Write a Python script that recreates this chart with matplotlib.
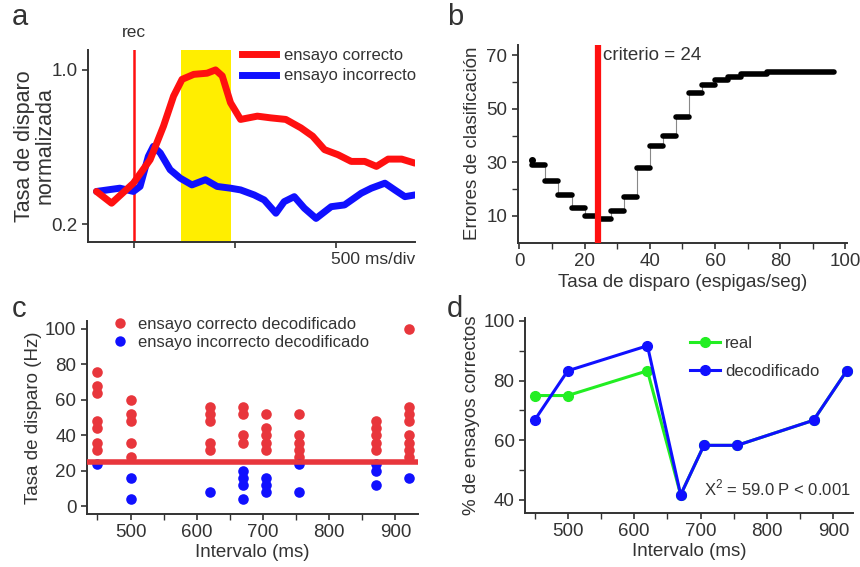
import matplotlib
matplotlib.use("Agg")
import matplotlib.pyplot as plt
from matplotlib.lines import Line2D

plt.rcParams['font.family'] = ['Liberation Sans', 'DejaVu Sans']
plt.rcParams['font.size'] = 13.5
plt.rcParams['text.color'] = '#333333'
plt.rcParams['axes.labelcolor'] = '#333333'
plt.rcParams['xtick.color'] = '#333333'
plt.rcParams['ytick.color'] = '#333333'
plt.rcParams['axes.edgecolor'] = '#333333'

# ---- panel a: normalized firing rate (ms relative to rec)
t_ok = [-186, -111, -3, 80, 146, 196, 238, 296, 362, 404, 437, 478, 528, 611, 678,
        752, 827, 885, 944, 1010, 1076, 1143, 1201, 1259, 1326, 1392]
v_ok = [0.369, 0.308, 0.412, 0.534, 0.708, 0.864, 0.951, 0.977, 0.983, 1.0, 0.969,
        0.830, 0.743, 0.760, 0.751, 0.743, 0.699, 0.656, 0.586, 0.560, 0.525, 0.525,
        0.499, 0.537, 0.537, 0.516]
t_bad = [-186, -70, -3, 30, 71, 96, 130, 179, 229, 287, 354, 412, 478, 528, 595, 645,
         703, 744, 794, 844, 902, 977, 1043, 1126, 1176, 1243, 1292, 1342, 1392]
v_bad = [0.369, 0.386, 0.369, 0.395, 0.551, 0.603, 0.569, 0.482, 0.438, 0.403, 0.430,
         0.395, 0.386, 0.377, 0.351, 0.325, 0.256, 0.316, 0.342, 0.282, 0.229, 0.290,
         0.299, 0.360, 0.386, 0.412, 0.377, 0.342, 0.351]
band = [233, 480]

# ---- panel b: classification errors vs threshold
step_left = [4, 8, 12, 16, 20, 24, 28, 32, 36, 40, 44, 48, 52, 56, 60, 64, 68, 76]
step_right = [8, 12, 16, 20, 24, 28, 32, 36, 40, 44, 48, 52, 56, 60, 64, 68, 76, 96.5]
step_err = [29, 23, 18, 13, 10, 9, 12, 17, 28, 36, 40, 47, 56, 59, 61, 62, 63, 64]
first_pt = (3.8, 31)
criterio = 24

# ---- panel c: decoded trials
intervals = [450, 500, 620, 670, 705, 755, 870, 920]
rate_ok = [[76, 68, 64, 48, 44, 36, 32],
           [60, 52, 48, 36, 28],
           [56, 52, 48, 36, 32],
           [56, 52, 40, 36],
           [52, 44, 40, 36, 32],
           [52, 40, 36, 32, 28],
           [48, 44, 40, 36, 32],
           [100, 56, 52, 48, 40, 36, 32, 28]]
rate_bad = [[24], [16, 4], [8], [20, 16, 12, 4], [16, 12, 8], [24, 8], [24, 20, 12], [16]]

# ---- panel d: percent correct
pct_real = [75, 75, 83.3, 41.7, 58.3, 58.3, 66.7, 83.3]
pct_dec = [66.7, 83.3, 91.7, 41.7, 58.3, 58.3, 66.7, 83.3]

RED = '#ff1010'
BLUE = '#1010ff'
DOTRED = '#e8363c'
SMALL = 12

fig = plt.figure(figsize=(8.6, 5.67), dpi=100)

def style(ax):
    ax.spines['top'].set_visible(False)
    ax.spines['right'].set_visible(False)
    ax.spines['left'].set_linewidth(1.4)
    ax.spines['bottom'].set_linewidth(1.4)
    ax.tick_params(width=1.2, length=4)

# a
ax = fig.add_axes([0.1023, 0.573, 0.380, 0.339])
style(ax)
ax.axvspan(band[0], band[1], color='#ffee00', lw=0, zorder=0)
ax.axvline(0, color=RED, lw=1.8, zorder=1)
ax.plot(t_ok, v_ok, color=RED, lw=5, solid_joinstyle='round', solid_capstyle='round', zorder=3)
ax.plot(t_bad, v_bad, color=BLUE, lw=5, solid_joinstyle='round', solid_capstyle='round', zorder=2)
ax.set_xlim(-228, 1391)
ax.set_ylim(0.106, 1.104)
ax.set_xticks([0, 500, 1000])
ax.set_xticklabels([])
ax.set_yticks([0.2, 1.0])
ax.set_yticklabels(['0.2', '1.0'])
ax.set_ylabel('Tasa de disparo\nnormalizada', fontsize=15.5, linespacing=0.95, labelpad=-3)
ax.text(1.0, -0.05, '500 ms/div', transform=ax.transAxes, ha='right', va='top',
        fontsize=12.5)
ax.text(0, 1.05, 'rec', transform=ax.get_xaxis_transform(), ha='center', va='bottom',
        fontsize=12.5)
h = [Line2D([], [], color=RED, lw=5), Line2D([], [], color=BLUE, lw=5)]
ax.legend(h, ['ensayo correcto', 'ensayo incorrecto'], loc='upper right',
          bbox_to_anchor=(1.05, 1.09), frameon=False, handlelength=2.0,
          handletextpad=0.5, labelspacing=0.35, fontsize=SMALL)
fig.text(0.014, 0.995, 'a', fontsize=21, va='top')

# b
ax = fig.add_axes([0.602, 0.572, 0.383, 0.349])
style(ax)
xs, ys = [], []
for l, r, e in zip(step_left, step_right, step_err):
    xs += [l, r]
    ys += [e, e]
ax.plot(xs, ys, color='#888888', lw=0.8, zorder=1)
ax.hlines(step_err, step_left, step_right, color='black', lw=4, capstyle='round', zorder=2)
ax.plot([first_pt[0]], [first_pt[1]], 'o', color='black', ms=4)
ax.axvline(criterio, color=RED, lw=4.5, zorder=3)
ax.text(criterio + 1.5, 70, 'criterio = %d' % criterio, va='center', ha='left',
        fontsize=13.5)
ax.set_xlim(-0.5, 100.5)
ax.set_ylim(0, 74)
ax.set_xticks(range(0, 101, 20))
ax.set_xticks(range(0, 101, 10), minor=True)
ax.set_yticks([10, 30, 50, 70])
ax.set_yticks(range(10, 71, 10), minor=True)
ax.tick_params(which='minor', width=1.0, length=4)
ax.set_xlabel('Tasa de disparo (espigas/seg)', labelpad=3)
ax.set_ylabel('Errores de clasificación', labelpad=4)
fig.text(0.52, 0.995, 'b', fontsize=21, va='top')

# c
ax = fig.add_axes([0.101, 0.0935, 0.385, 0.341])
style(ax)
for x, rs in zip(intervals, rate_ok):
    ax.scatter([x] * len(rs), rs, s=58, color=DOTRED, lw=0, zorder=2)
for x, rs in zip(intervals, rate_bad):
    ax.scatter([x] * len(rs), rs, s=58, color=BLUE, lw=0, zorder=2)
ax.axhline(25, color=DOTRED, lw=4, zorder=3)
ax.set_xlim(434, 934)
ax.set_ylim(-4.3, 104.7)
ax.set_xticks(range(500, 901, 100))
ax.set_xticks(range(450, 901, 50), minor=True)
ax.tick_params(which='minor', width=1.0, length=4)
ax.set_yticks(range(0, 101, 20))
ax.set_xlabel('Intervalo (ms)', labelpad=2)
ax.set_ylabel('Tasa de disparo (Hz)', labelpad=2)
h = [Line2D([], [], ls='', marker='o', ms=7.5, color=DOTRED, mec='none'),
     Line2D([], [], ls='', marker='o', ms=7.5, color=BLUE, mec='none')]
ax.legend(h, ['ensayo correcto decodificado', 'ensayo incorrecto decodificado'],
          loc='upper left', bbox_to_anchor=(0.02, 1.07), frameon=False,
          handletextpad=0.1, labelspacing=0.15, borderaxespad=0.2, fontsize=SMALL)
fig.text(0.014, 0.48, 'c', fontsize=21, va='top')

# d
ax = fig.add_axes([0.6105, 0.0952, 0.381, 0.3434])
style(ax)
ax.plot(intervals, pct_real, '-o', color='#22ee22', lw=2.2, ms=7, zorder=2, label='real')
ax.plot(intervals, pct_dec, '-o', color=BLUE, lw=2.2, ms=7, zorder=3, label='decodificado')
ax.set_xlim(435.7, 929)
ax.set_ylim(35.6, 100.9)
ax.set_xticks(range(500, 901, 100))
ax.set_xticks(range(450, 901, 50), minor=True)
ax.set_yticks(range(40, 101, 20))
ax.set_yticks(range(40, 101, 10), minor=True)
ax.tick_params(which='minor', width=1.0, length=4)
ax.set_xlabel('Intervalo (ms)', labelpad=2)
ax.set_ylabel('% de ensayos correctos', labelpad=2)
ax.legend(loc='upper left', bbox_to_anchor=(0.458, 0.985), frameon=False,
          handlelength=1.8, handletextpad=0.3, labelspacing=0.75, fontsize=SMALL)
ax.text(0.995, 0.13, r'X$^{\mathregular{2}}$ = 59.0 P < 0.001', transform=ax.transAxes,
        ha='right', va='center', fontsize=SMALL)
fig.text(0.52, 0.48, 'd', fontsize=21, va='top')

fig.savefig('out.png', dpi=100)
